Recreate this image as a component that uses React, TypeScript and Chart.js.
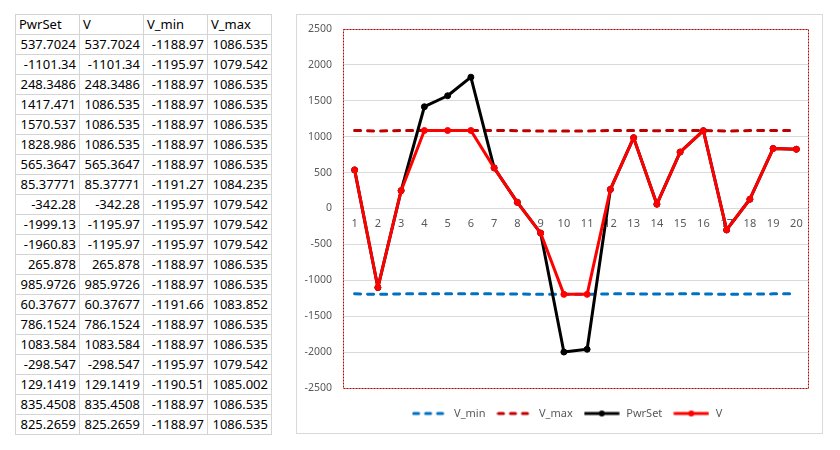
import React, { useEffect, useRef } from 'react';
import { Chart, registerables } from 'chart.js';

Chart.register(...registerables);

const categories = ['1', '2', '3', '4', '5', '6', '7', '8', '9', '10', '11', '12', '13', '14', '15', '16', '17', '18', '19', '20'];

const pwrSet = [537.7024, -1101.34, 248.3486, 1417.471, 1570.537, 1828.986, 565.3647, 85.37771, -342.28, -1999.13, -1960.83, 265.878, 985.9726, 60.37677, 786.1524, 1083.584, -298.547, 129.1419, 835.4508, 825.2659];
const vValues = [537.7024, -1101.34, 248.3486, 1086.535, 1086.535, 1086.535, 565.3647, 85.37771, -342.28, -1195.97, -1195.97, 265.878, 985.9726, 60.37677, 786.1524, 1083.584, -298.547, 129.1419, 835.4508, 825.2659];
const vMin = [-1188.97, -1195.97, -1188.97, -1188.97, -1188.97, -1188.97, -1188.97, -1191.27, -1195.97, -1195.97, -1195.97, -1188.97, -1188.97, -1191.66, -1188.97, -1188.97, -1195.97, -1190.51, -1188.97, -1188.97];
const vMax = [1086.535, 1079.542, 1086.535, 1086.535, 1086.535, 1086.535, 1086.535, 1084.235, 1079.542, 1079.542, 1079.542, 1086.535, 1086.535, 1083.852, 1086.535, 1086.535, 1079.542, 1085.002, 1086.535, 1086.535];

const tableHeaders = ['PwrSet', 'V', 'V_min', 'V_max'];

const yMin = -2500;
const yMax = 2500;
const yStep = 500;

const FONT = '"Noto Sans", "Open Sans", sans-serif';
const TEXT_GREY = '#595959';

function makeSymbol(color: string, dashed: boolean, dot: boolean): HTMLCanvasElement {
  const c = document.createElement('canvas');
  c.width = 36;
  c.height = 8;
  const g = c.getContext('2d')!;
  g.strokeStyle = color;
  g.fillStyle = color;
  g.lineWidth = 3;
  g.beginPath();
  if (dashed) {
    g.lineCap = 'round';
    g.setLineDash([5, 7]);
    g.moveTo(2, 4);
    g.lineTo(34, 4);
  } else {
    g.lineCap = 'butt';
    g.moveTo(0.5, 4);
    g.lineTo(35.5, 4);
  }
  g.stroke();
  if (dot) {
    g.setLineDash([]);
    g.beginPath();
    g.arc(18, 4, 3, 0, Math.PI * 2);
    g.fill();
  }
  return c;
}

const plotBorder = {
  id: 'plotBorder',
  beforeDatasetsDraw(chart: any) {
    const { ctx, chartArea } = chart;
    ctx.save();
    ctx.strokeStyle = '#C00000';
    ctx.lineWidth = 1;
    ctx.setLineDash([2, 1]);
    ctx.strokeRect(
      Math.round(chartArea.left) + 0.5,
      Math.round(chartArea.top) + 0.5,
      Math.round(chartArea.right - chartArea.left),
      Math.round(chartArea.bottom - chartArea.top)
    );
    ctx.restore();
  },
};

// centre the legend on the chart box the way the reference does
const legendShift = {
  id: 'legendShift',
  afterLayout(chart: any) {
    const l = chart.legend;
    if (l) {
      l.left += 14;
      l.right += 14;
    }
  },
};

function LineChart() {
  const ref = useRef<HTMLCanvasElement | null>(null);
  useEffect(() => {
    if (!ref.current) return;
    const symbols = [
      makeSymbol('#0070C0', true, false),
      makeSymbol('#C00000', true, false),
      makeSymbol('#000000', false, true),
      makeSymbol('#FF0000', false, true),
    ];
    const chart = new Chart(ref.current, {
      type: 'line',
      data: {
        labels: categories,
        datasets: [
          {
            label: 'V_min',
            data: vMin,
            borderColor: '#0070C0',
            backgroundColor: '#0070C0',
            borderWidth: 3,
            borderDash: [6, 7],
            borderCapStyle: 'round',
            pointRadius: 0,
            tension: 0,
            order: 3,
          },
          {
            label: 'V_max',
            data: vMax,
            borderColor: '#C00000',
            backgroundColor: '#C00000',
            borderWidth: 3,
            borderDash: [6, 7],
            borderCapStyle: 'round',
            pointRadius: 0,
            tension: 0,
            order: 2,
          },
          {
            label: 'PwrSet',
            data: pwrSet,
            borderColor: '#000000',
            backgroundColor: '#000000',
            pointBackgroundColor: '#000000',
            pointBorderColor: '#000000',
            borderWidth: 3,
            borderJoinStyle: 'round',
            pointRadius: 3,
            pointBorderWidth: 1,
            tension: 0,
            order: 1,
          },
          {
            label: 'V',
            data: vValues,
            borderColor: '#FF0000',
            backgroundColor: '#FF0000',
            pointBackgroundColor: '#FF0000',
            pointBorderColor: '#FF0000',
            borderWidth: 3,
            borderJoinStyle: 'round',
            pointRadius: 3,
            pointBorderWidth: 1,
            tension: 0,
            order: 0,
          },
        ],
      },
      options: {
        animation: false,
        responsive: false,
        events: [],
        layout: { padding: { top: 14, right: 14, bottom: 4, left: 0 } },
        font: { family: FONT },
        scales: {
          x: {
            type: 'category',
            axis: 'x',
            position: { y: 0 },
            offset: true,
            grid: { display: false, drawTicks: false },
            border: { display: false },
            ticks: { color: TEXT_GREY, font: { family: FONT, size: 11 }, padding: 9, autoSkip: false, maxRotation: 0 },
          },
          xPad: {
            type: 'category',
            axis: 'x',
            position: 'bottom',
            display: true,
            grid: { display: false, drawTicks: false },
            border: { display: false },
            ticks: { display: false },
            afterFit(scale: any) {
              scale.height = 10;
            },
          },
          y: {
            type: 'linear',
            min: yMin,
            max: yMax,
            grid: { color: '#d9d9d9', lineWidth: 1, drawTicks: false },
            border: { display: false },
            ticks: {
              stepSize: yStep,
              color: TEXT_GREY,
              font: { family: FONT, size: 10.5 },
              padding: 11,
              callback: (v: any) => String(v),
            },
            afterFit(scale: any) {
              scale.width = 46;
              scale.paddingTop = 7;
              scale.paddingBottom = 7;
            },
          },
        } as any,
        plugins: {
          legend: {
            display: true,
            position: 'bottom',
            labels: {
              usePointStyle: true,
              pointStyleWidth: 38,
              padding: 10,
              color: TEXT_GREY,
              font: { family: FONT, size: 11 },
              sort: (a: any, b: any) => a.datasetIndex - b.datasetIndex,
              generateLabels(ch: any) {
                const items = (Chart.defaults.plugins.legend.labels as any).generateLabels(ch);
                return items.map((it: any) => ({ ...it, pointStyle: symbols[it.datasetIndex] }));
              },
            },
          },
          tooltip: { enabled: false },
        },
      } as any,
      plugins: [plotBorder, legendShift],
    });
    return () => chart.destroy();
  }, []);
  return <canvas ref={ref} width={525} height={418} style={{ display: 'block' }} />;
}

function DataTable() {
  const rows = categories.map((_, i) => [pwrSet[i], vValues[i], vMin[i], vMax[i]]);
  const cellBase: React.CSSProperties = {
    boxSizing: 'border-box',
    width: 64,
    height: 20,
    borderRight: '1px solid #d4d4d4',
    borderBottom: '1px solid #d4d4d4',
    lineHeight: '19px',
    padding: '0 3px',
    whiteSpace: 'nowrap',
    overflow: 'hidden',
  };
  return (
    <div
      style={{
        position: 'absolute',
        left: 7,
        top: 6,
        display: 'grid',
        gridTemplateColumns: 'repeat(4, 64px)',
        borderTop: '1px solid #d4d4d4',
        borderLeft: '1px solid #d4d4d4',
        fontFamily: FONT,
        fontSize: 13,
        color: '#000',
      }}
    >
      {tableHeaders.map((h) => (
        <div key={h} style={{ ...cellBase, textAlign: 'left' }}>{h}</div>
      ))}
      {rows.map((r, i) =>
        r.map((v, j) => (
          <div key={i + '-' + j} style={{ ...cellBase, textAlign: 'right' }}>{String(v)}</div>
        ))
      )}
    </div>
  );
}

export default function App() {
  return (
    <div style={{ position: 'relative', width: 824, height: 434, fontFamily: FONT }}>
      <DataTable />
      <div
        style={{
          position: 'absolute',
          left: 288,
          top: 6,
          width: 527,
          height: 420,
          boxSizing: 'border-box',
          border: '1px solid #d9d9d9',
          background: '#fff',
        }}
      >
        <LineChart />
      </div>
    </div>
  );
}
